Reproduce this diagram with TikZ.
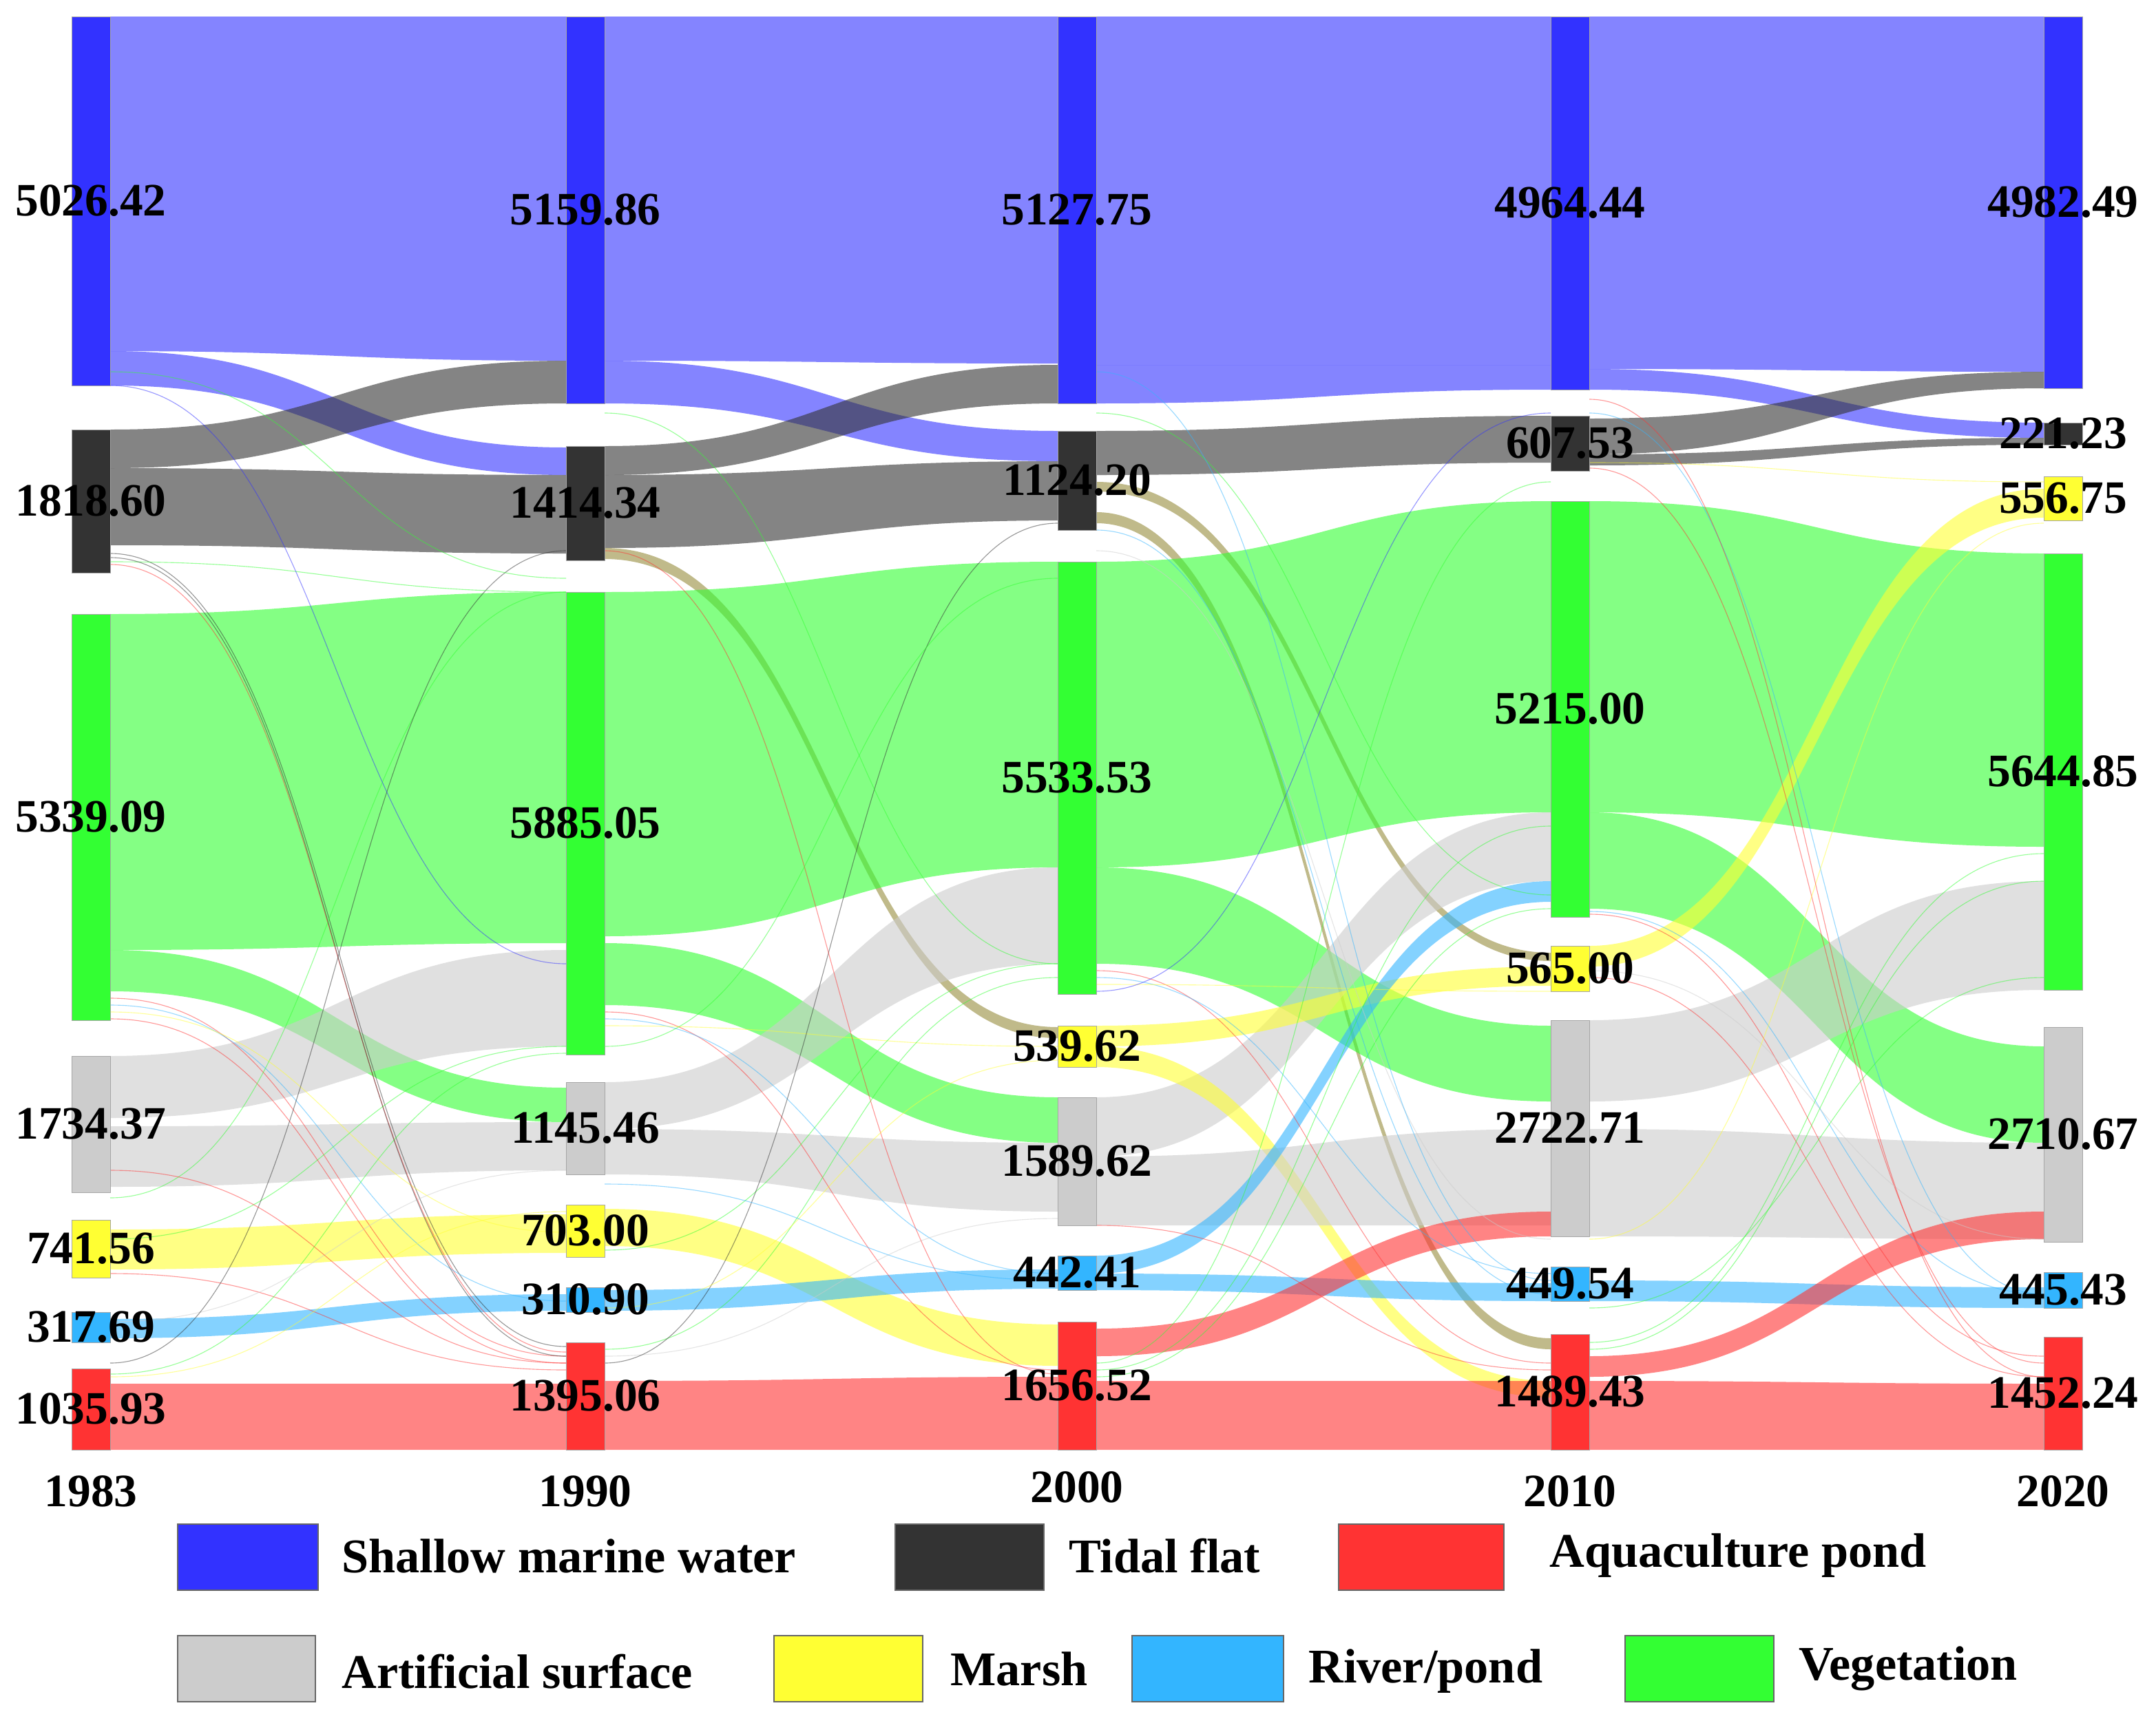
\documentclass[tikz,border=0pt]{standalone}
\usepackage{fontspec}
\setmainfont{Liberation Serif}
\definecolor{cB}{RGB}{50,50,255}
\definecolor{cT}{RGB}{51,51,51}
\definecolor{cR}{RGB}{255,51,51}
\definecolor{cG}{RGB}{204,204,204}
\definecolor{cY}{RGB}{255,255,51}
\definecolor{cL}{RGB}{51,181,255}
\definecolor{cV}{RGB}{51,255,51}
\definecolor{cO}{RGB}{150,140,60}
\newcommand\fl[7]{\fill[#7,fill opacity=0.6] (#1,#2) .. controls ({(#1+#4)/2},#2) and ({(#1+#4)/2},#5) .. (#4,#5) -- (#4,#6) .. controls ({(#1+#4)/2},#6) and ({(#1+#4)/2},#3) .. (#1,#3) -- cycle;}
\newcommand\tl[5]{\draw[#5,opacity=0.5,line width=0.8pt] (#1,#2) .. controls ({(#1+#3)/2},#2) and ({(#1+#3)/2},#4) .. (#3,#4);}
\newcommand\sbar[5]{\fill[#5,draw=black!35,line width=0.5pt] (#1,#2) rectangle (#1+28,#3); \node[lab] at (#1+14,{(#2+#3)/2}) {#4};}
\tikzset{lab/.style={font=\bfseries\fontsize{48}{50}\selectfont,inner sep=0pt},
leg/.style={font=\bfseries\fontsize{50}{52}\selectfont,anchor=west,inner sep=0pt},
box/.style={draw=black!60,line width=0.8pt}}
\begin{document}
\begin{tikzpicture}[x=0.5mm,y=-0.5mm]
\useasboundingbox (0,0) rectangle (1565.5,1249.5);
\fill[white] (0,0) rectangle (1565.5,1249.5);
% 1983 -> 1990
\fl{80}{12}{255}{411}{12}{262}{cB}
\fl{80}{255}{280}{411}{325}{345}{cB}
\fl{80}{312}{340}{411}{262}{293}{cT}
\fl{80}{340}{396}{411}{345}{402}{cT}
\fl{80}{446}{690}{411}{430}{685}{cV}
\fl{80}{690}{720}{411}{790}{815}{cV}
\fl{80}{767}{812}{411}{690}{760}{cG}
\fl{80}{818}{862}{411}{815}{850}{cG}
\fl{80}{893}{922}{411}{882}{910}{cY}
\fl{80}{958}{972}{411}{940}{952}{cL}
\fl{80}{1005}{1053}{411}{1005}{1053}{cR}
\tl{80}{402}{411}{978}{cT}\tl{80}{410}{411}{982}{cR}\tl{80}{725}{411}{985}{cR}
\tl{80}{730}{411}{945}{cL}\tl{80}{735}{411}{895}{cY}\tl{80}{740}{411}{990}{cR}
\tl{80}{900}{411}{760}{cV}\tl{80}{925}{411}{995}{cR}\tl{80}{998}{411}{765}{cV}
\tl{80}{870}{411}{430}{cV}\tl{80}{960}{411}{850}{cG}\tl{80}{990}{411}{400}{cT}
\tl{80}{270}{411}{420}{cV}\tl{80}{408}{411}{430}{cV}\tl{80}{1000}{411}{880}{cY}
\tl{80}{405}{411}{985}{cT}\tl{80}{280}{411}{700}{cB}\tl{80}{850}{411}{990}{cR}
% 1990 -> 2000
\fl{439}{12}{262}{768}{12}{264}{cB}
\fl{439}{262}{293}{768}{313}{335}{cB}
\fl{439}{324}{345}{768}{265}{293}{cT}
\fl{439}{345}{398}{768}{335}{378}{cT}
\fl{439}{398}{406}{768}{746}{754}{cO}
\fl{439}{430}{680}{768}{408}{630}{cV}
\fl{439}{685}{730}{768}{797}{830}{cV}
\fl{439}{786}{820}{768}{630}{700}{cG}
\fl{439}{820}{853}{768}{830}{880}{cG}
\fl{439}{878}{905}{768}{962}{992}{cY}
\fl{439}{937}{952}{768}{922}{936}{cL}
\fl{439}{1003}{1053}{768}{1000}{1053}{cR}
\tl{439}{735}{768}{995}{cR}\tl{439}{740}{768}{925}{cL}\tl{439}{745}{768}{760}{cY}
\tl{439}{908}{768}{700}{cV}\tl{439}{980}{768}{710}{cV}\tl{439}{985}{768}{885}{cG}
\tl{439}{990}{768}{380}{cT}\tl{439}{400}{768}{998}{cR}\tl{439}{760}{768}{420}{cV}
\tl{439}{300}{768}{700}{cV}\tl{439}{950}{768}{770}{cY}\tl{439}{860}{768}{930}{cL}
% 2000 -> 2010
\fl{796}{12}{265}{1126}{12}{265}{cB}
\fl{796}{265}{293}{1126}{265}{283}{cB}
\fl{796}{313}{345}{1126}{302}{336}{cT}
\fl{796}{350}{357}{1126}{692}{698}{cO}
\fl{796}{372}{380}{1126}{972}{980}{cO}
\fl{796}{408}{630}{1126}{364}{590}{cV}
\fl{796}{630}{700}{1126}{745}{800}{cV}
\fl{796}{797}{840}{1126}{590}{640}{cG}
\fl{796}{745}{760}{1126}{702}{716}{cY}
\fl{796}{760}{775}{1126}{1003}{1015}{cY}
\fl{796}{840}{890}{1126}{820}{890}{cG}
\fl{796}{912}{925}{1126}{640}{655}{cL}
\fl{796}{925}{937}{1126}{932}{945}{cL}
\fl{796}{965}{985}{1126}{880}{898}{cR}
\fl{796}{1003}{1053}{1126}{1003}{1053}{cR}
\tl{796}{705}{1126}{990}{cR}\tl{796}{710}{1126}{925}{cL}\tl{796}{715}{1126}{720}{cY}
\tl{796}{1000}{1126}{660}{cV}\tl{796}{995}{1126}{600}{cV}\tl{796}{300}{1126}{650}{cV}
\tl{796}{400}{1126}{900}{cG}\tl{796}{720}{1126}{300}{cB}\tl{796}{890}{1126}{995}{cR}
\tl{796}{990}{1126}{350}{cV}\tl{796}{270}{1126}{930}{cL}\tl{796}{385}{1126}{940}{cL}
% 2010 -> 2020
\fl{1154}{12}{268}{1484}{12}{270}{cB}
\fl{1154}{268}{283}{1484}{307}{318}{cB}
\fl{1154}{304}{330}{1484}{270}{282}{cT}
\fl{1154}{330}{338}{1484}{318}{323}{cT}
\fl{1154}{364}{590}{1484}{402}{615}{cV}
\fl{1154}{590}{660}{1484}{760}{830}{cV}
\fl{1154}{687}{702}{1484}{355}{376}{cY}
\fl{1154}{741}{800}{1484}{640}{719}{cG}
\fl{1154}{820}{898}{1484}{830}{900}{cG}
\fl{1154}{930}{945}{1484}{935}{950}{cL}
\fl{1154}{985}{1000}{1484}{880}{900}{cR}
\fl{1154}{1003}{1053}{1484}{1005}{1053}{cR}
\tl{1154}{336}{1484}{350}{cY}\tl{1154}{340}{1484}{990}{cR}\tl{1154}{662}{1484}{940}{cL}
\tl{1154}{664}{1484}{985}{cR}\tl{1154}{705}{1484}{900}{cG}\tl{1154}{710}{1484}{1000}{cR}
\tl{1154}{975}{1484}{620}{cV}\tl{1154}{980}{1484}{640}{cV}\tl{1154}{300}{1484}{940}{cL}
\tl{1154}{900}{1484}{380}{cY}\tl{1154}{950}{1484}{710}{cV}\tl{1154}{290}{1484}{1000}{cR}
% bars
\sbar{52}{12}{280}{5026.42}{cB}\sbar{52}{312}{416}{1818.60}{cT}\sbar{52}{446}{741}{5339.09}{cV}
\sbar{52}{767}{866}{1734.37}{cG}\sbar{52}{886}{928}{741.56}{cY}\sbar{52}{953}{975}{317.69}{cL}\sbar{52}{994}{1053}{1035.93}{cR}
\sbar{411}{12}{293}{5159.86}{cB}\sbar{411}{324}{407}{1414.34}{cT}\sbar{411}{430}{766}{5885.05}{cV}
\sbar{411}{786}{853}{1145.46}{cG}\sbar{411}{875}{913}{703.00}{cY}\sbar{411}{935}{953}{310.90}{cL}\sbar{411}{975}{1053}{1395.06}{cR}
\sbar{768}{12}{293}{5127.75}{cB}\sbar{768}{313}{385}{1124.20}{cT}\sbar{768}{408}{722}{5533.53}{cV}
\sbar{768}{745}{775}{539.62}{cY}\sbar{768}{797}{890}{1589.62}{cG}\sbar{768}{912}{937}{442.41}{cL}\sbar{768}{960}{1053}{1656.52}{cR}
\sbar{1126}{12}{283}{4964.44}{cB}\sbar{1126}{302}{342}{607.53}{cT}\sbar{1126}{364}{666}{5215.00}{cV}
\sbar{1126}{687}{720}{565.00}{cY}\sbar{1126}{741}{898}{2722.71}{cG}\sbar{1126}{920}{945}{449.54}{cL}\sbar{1126}{969}{1053}{1489.43}{cR}
\sbar{1484}{12}{282}{4982.49}{cB}\sbar{1484}{307}{323}{221.23}{cT}\sbar{1484}{346}{378}{556.75}{cY}
\sbar{1484}{402}{719}{5644.85}{cV}\sbar{1484}{746}{902}{2710.67}{cG}\sbar{1484}{924}{950}{445.43}{cL}\sbar{1484}{971}{1053}{1452.24}{cR}
% years
\node[lab] (y1) at (66,1083) {1983};
\node[lab] (y2) at (425,1083) {1990};
\node[lab] (y3) at (782,1080) {2000};
\node[lab] (y4) at (1140,1083) {2010};
\node[lab] (y5) at (1498,1083) {2020};
% legend
\draw[box,fill=cB] (129,1107) rectangle (231,1155);
\node[leg] (l1) at (248,1130) {Shallow marine water};
\draw[box,fill=cT] (650,1107) rectangle (758,1155);
\node[leg] (l2) at (776,1130) {Tidal flat};
\draw[box,fill=cR] (972,1107) rectangle (1092,1155);
\node[leg] (l3) at (1125,1130) {Aquaculture pond};
\draw[box,fill=cG] (129,1188) rectangle (229,1236);
\node[leg] (l4) at (248,1214) {Artificial surface};
\draw[box,fill=cY] (562,1188) rectangle (670,1236);
\node[leg] (l5) at (690,1212) {Marsh};
\draw[box,fill=cL] (822,1188) rectangle (932,1236);
\node[leg] (l6) at (950,1214) {River/pond};
\draw[box,fill=cV] (1180,1188) rectangle (1288,1236);
\node[leg] (l7) at (1306,1212) {Vegetation};
\end{tikzpicture}
\end{document}
